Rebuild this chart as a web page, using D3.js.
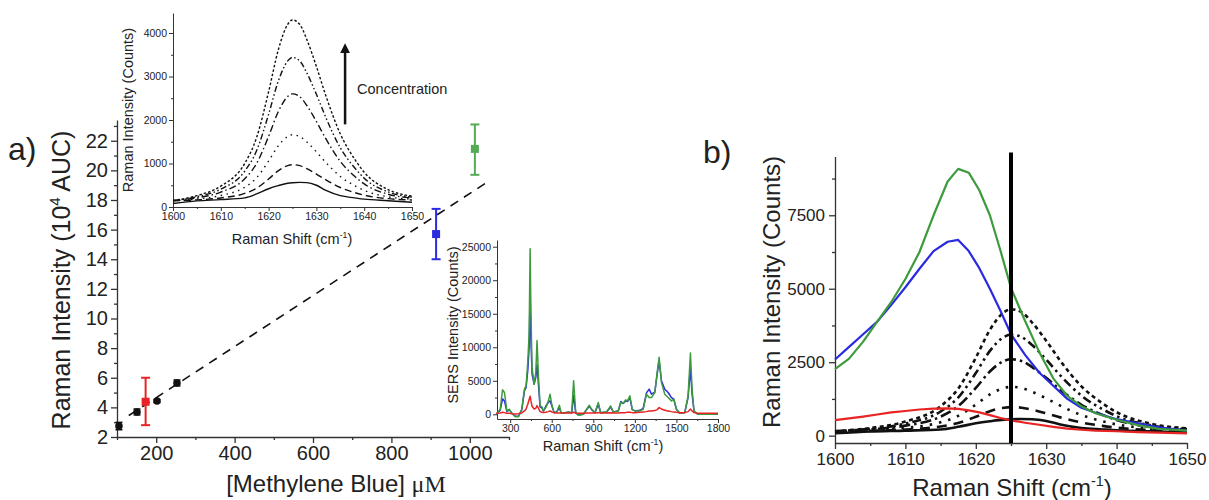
<!DOCTYPE html>
<html>
<head>
<meta charset="utf-8">
<script src="https://cdn.jsdelivr.net/npm/d3@7"></script>
<style>
  body { margin: 0; background: #fff; }
  svg { display: block; }
  text { font-family: "Liberation Sans", Arial, sans-serif; fill: #222; }
</style>
</head>
<body>
<svg></svg>
<script>
// ---- panel a: calibration points ----
const concX = [105, 151, 202, 253];
const concY = [2.74, 3.69, 4.43, 5.65];
const concErr = [0.25, 0.2, 0.1, 0.2];

const sampleX = [173, 914, 1013];
const sampleY = [4.38, 15.7, 21.45];
const sampleLo = [2.8, 14.0, 19.7];
const sampleHi = [6.0, 17.4, 23.1];

const fitX = [130, 1050];
const fitY = [3.45, 19.3];

const aXTicks = [200, 400, 600, 800, 1000];
const aXMinor = [100, 300, 500, 700, 900, 1100];
const aYTicks = [2, 4, 6, 8, 10, 12, 14, 16, 18, 20, 22];
const aYMinor = [3, 5, 7, 9, 11, 13, 15, 17, 19, 21, 23];

// ---- standards, 1600-1650 region (inset + panel b) ----
const shiftX = [1600, 1605, 1610, 1615, 1617.5, 1620, 1622, 1624, 1625, 1626.5, 1628, 1630, 1632, 1635, 1638, 1640, 1645, 1650];
const stdSolid = [80, 140, 170, 210, 300, 420, 490, 545, 557, 565, 560, 500, 380, 260, 210, 180, 145, 110];
const stdDash = [142, 164, 208, 312, 432, 642, 832, 952, 972, 952, 882, 758, 622, 448, 332, 272, 192, 162];
const stdDot = [144, 184, 264, 454, 673, 1056, 1403, 1622, 1660, 1622, 1494, 1268, 1020, 702, 490, 381, 235, 180];
const stdDashDot = [146, 211, 341, 648, 1003, 1623, 2185, 2540, 2600, 2540, 2333, 1966, 1564, 1050, 707, 530, 294, 205];
const stdDashDotDot = [148, 235, 410, 822, 1298, 2130, 2884, 3360, 3440, 3360, 3082, 2590, 2051, 1361, 901, 663, 346, 227];
const stdShortDash = [150, 260, 480, 1000, 1600, 2650, 3600, 4200, 4300, 4200, 3850, 3230, 2550, 1680, 1100, 800, 400, 250];

const insetXTicks = [1600, 1610, 1620, 1630, 1640, 1650];
const insetXMinor = [1605, 1615, 1625, 1635, 1645];
const insetYTicks = [0, 1000, 2000, 3000, 4000];
const insetYMinor = [500, 1500, 2500, 3500];
const arrowX = 1636;
const arrowFrom = 1900;
const arrowTo = 3650;

// ---- samples, panel b ----
const bX = [1600, 1602, 1604, 1606, 1608, 1610, 1612, 1614, 1616, 1617.5, 1619, 1620.5, 1622, 1623.5, 1625, 1627, 1629, 1631, 1633, 1635, 1637, 1640, 1643, 1646, 1650];
const bGreen = [2260, 2620, 3200, 3880, 4550, 5330, 6250, 7500, 8650, 9080, 8950, 8350, 7500, 6300, 5030, 3900, 2850, 1950, 1350, 1000, 760, 540, 360, 230, 170];
const bBlue = [2590, 3020, 3450, 3880, 4450, 5050, 5680, 6280, 6600, 6660, 6280, 5700, 5000, 4250, 3450, 2750, 2150, 1700, 1250, 950, 780, 560, 420, 280, 170];
const bRed = [530, 590, 650, 720, 790, 840, 890, 920, 930, 910, 860, 790, 700, 600, 520, 440, 370, 300, 240, 200, 170, 150, 120, 100, 80];
const markerShift = 1625;

const bXTicks = [1600, 1610, 1620, 1630, 1640, 1650];
const bXMinor = [1605, 1615, 1625, 1635, 1645];
const bYTicks = [0, 2500, 5000, 7500];
const bYMinor = [1250, 3750, 6250, 8750];

// ---- SERS full spectra inset ----
const sersX = [
  200, 228, 245, 259, 276, 293, 312, 336, 360, 384,
  403, 415, 427, 437, 444, 450, 458, 473, 485, 494,
  504, 516, 528, 540, 557, 576, 588, 600, 617, 636,
  655, 667, 696, 720, 744, 758, 773, 792, 828, 852,
  871, 888, 912, 936, 953, 996, 1025, 1044, 1080, 1099,
  1116, 1133, 1147, 1164, 1181, 1200, 1236, 1260, 1284, 1303,
  1320, 1344, 1361, 1375, 1392, 1416, 1440, 1464, 1481, 1500,
  1524, 1560, 1584, 1601, 1613, 1627, 1656, 1700, 1750, 1800];
const sersGreen = [
  0, 750, 3650, 3250, 500, 750, 150, -350, -350, 750,
  3750, 4250, 7750, 12000, 24700, 15000, 7000, 4500, 6250, 11000,
  5750, 1250, 1150, 500, 1000, 2000, 3000, 1500, 250, 350,
  1350, 250, 250, 350, 250, 5000, 250, -150, 0, 750,
  1350, 750, 250, 1750, 250, 350, 1250, 350, 500, 1750,
  1650, 2150, 2000, 2750, 750, 500, 500, 750, 3000, 2500,
  2500, 3250, 6250, 8500, 4750, 3000, 2500, 2000, 2250, 750,
  150, 250, 2750, 9150, 3750, 500, 0, 50, 0, 50];
const sersBlue = [
  0, 600, 2300, 2000, 400, 700, 200, -300, -300, 700,
  3500, 4000, 6500, 10000, 18400, 11000, 6000, 4500, 5500, 7400,
  4500, 1100, 1000, 450, 1200, 1800, 2000, 1300, 250, 350,
  1000, 250, 250, 300, 250, 2800, 250, -100, 0, 700,
  1200, 700, 250, 1500, 250, 350, 1100, 350, 500, 1900,
  1600, 2000, 1900, 2500, 700, 500, 600, 900, 3200, 3750,
  3000, 3300, 6000, 8000, 5000, 3750, 3250, 2500, 2250, 750,
  150, 250, 2500, 6800, 3000, 450, 0, 50, 0, 50];
const sersRed = [
  150, 200, 300, 250, 150, 150, 100, 50, 100, 200,
  500, 800, 1500, 2200, 2700, 2000, 1200, 800, 900, 1300,
  900, 400, 300, 250, 300, 400, 500, 350, 250, 200,
  200, 200, 200, 200, 200, 300, 200, 150, 150, 200,
  200, 200, 200, 250, 200, 200, 250, 200, 200, 250,
  250, 250, 300, 300, 250, 250, 300, 350, 400, 500,
  500, 550, 700, 1000, 800, 600, 500, 400, 350, 300,
  250, 250, 400, 800, 500, 250, 150, 150, 150, 150];

const sersXTicks = [300, 600, 900, 1200, 1500, 1800];
const sersXMinor = [450, 750, 1050, 1350, 1650];
const sersYTicks = [0, 5000, 10000, 15000, 20000, 25000];
const sersYMinor = [2500, 7500, 12500, 17500, 22500];

const RED = '#e82323';
const BLUE = '#2a2ae0';
const GREEN = '#3d9b3d';
const GREEN_MARK = '#55aa55';

const width = 1209;
const height = 500;

const svg = d3.select('svg').attr('width', width).attr('height', height);

// scales
const xA = d3.scaleLinear().domain([100, 1100]).range([117, 509]);
const yA = d3.scaleLinear().domain([2, 23.4]).range([437, 120]);
const xI = d3.scaleLinear().domain([1600, 1650]).range([173, 412]);
const yI = d3.scaleLinear().domain([0, 4460]).range([207, 13]);
const xS = d3.scaleLinear().domain([205, 1800]).range([497, 718]);
const yS = d3.scaleLinear().domain([-700, 26000]).range([419, 240]);
const xB = d3.scaleLinear().domain([1600, 1650]).range([835, 1187]);
const yB = d3.scaleLinear().domain([-250, 9500]).range([443, 156.5]);

const plain = d3.format('d');

const drawAxes = (x, y, cfg) => {
  const yBase = y.range()[0];
  const xBase = x.range()[0];

  const gxMinor = svg.append('g').attr('transform', 'translate(0,' + yBase + ')')
    .call(d3.axisBottom(x).tickValues(cfg.xMinor).tickSize(cfg.minor).tickFormat('').tickSizeOuter(0));
  gxMinor.select('.domain').remove();
  const gyMinor = svg.append('g').attr('transform', 'translate(' + xBase + ',0)')
    .call(d3.axisLeft(y).tickValues(cfg.yMinor).tickSize(cfg.minor).tickFormat('').tickSizeOuter(0));
  gyMinor.select('.domain').remove();

  const gx = svg.append('g').attr('transform', 'translate(0,' + yBase + ')')
    .call(d3.axisBottom(x).tickValues(cfg.xTicks).tickFormat(plain)
      .tickSize(cfg.major).tickPadding(cfg.pad).tickSizeOuter(0));
  const gy = svg.append('g').attr('transform', 'translate(' + xBase + ',0)')
    .call(d3.axisLeft(y).tickValues(cfg.yTicks).tickFormat(plain)
      .tickSize(cfg.major).tickPadding(cfg.pad).tickSizeOuter(0));

  [gx, gy, gxMinor, gyMinor].forEach((g) => {
    g.selectAll('line').attr('stroke', '#333').attr('stroke-width', cfg.sw);
    g.selectAll('.domain').attr('stroke', '#333').attr('stroke-width', cfg.sw);
    g.selectAll('text')
      .attr('fill', '#222')
      .style('font-size', cfg.fs + 'px')
      .style('font-family', '"Liberation Sans", Arial, sans-serif');
  });
};

const pathOf = (x, y, xs, ys, curve) =>
  d3.line()
    .x((d, i) => x(xs[i]))
    .y((d) => y(d))
    .curve(curve || d3.curveLinear)(ys);

const addTitle = (tx, ty, rotate, size, parts) => {
  const t = svg.append('text')
    .attr('text-anchor', 'middle')
    .attr('transform', 'translate(' + tx + ',' + ty + ')' + (rotate ? ' rotate(-90)' : ''))
    .style('font-size', size + 'px');
  parts.forEach((p) => {
    const s = t.append('tspan').text(p.text);
    if (p.sup) s.attr('dy', -size * 0.4).style('font-size', (size * 0.6) + 'px');
    if (p.after) s.attr('dy', size * 0.4);
    if (p.serif) s.style('font-family', '"Liberation Serif", "Times New Roman", serif');
  });
  return t;
};

// ================= panel a =================
drawAxes(xA, yA, {
  xTicks: aXTicks, xMinor: aXMinor, yTicks: aYTicks, yMinor: aYMinor,
  major: 6, minor: 3, pad: 3, sw: 1.3, fs: 20
});

// fit line
svg.append('path')
  .attr('d', pathOf(xA, yA, fitX, fitY))
  .attr('fill', 'none')
  .attr('stroke', '#111')
  .attr('stroke-width', 1.6)
  .attr('stroke-dasharray', '9,7');

// black calibration points
const calib = svg.append('g');
concX.forEach((cx, i) => {
  const px = xA(cx);
  const lo = yA(concY[i] - concErr[i]);
  const hi = yA(concY[i] + concErr[i]);
  calib.append('line').attr('x1', px).attr('x2', px).attr('y1', lo).attr('y2', hi)
    .attr('stroke', '#111').attr('stroke-width', 1.5);
  [lo, hi].forEach((yy) => {
    calib.append('line').attr('x1', px - 3.5).attr('x2', px + 3.5).attr('y1', yy).attr('y2', yy)
      .attr('stroke', '#111').attr('stroke-width', 1.5);
  });
  calib.append('circle').attr('cx', px).attr('cy', yA(concY[i])).attr('r', 3.8).attr('fill', '#111');
});

// coloured samples
const sampleColors = [RED, BLUE, GREEN_MARK];
const samples = svg.append('g');
sampleX.forEach((sx, i) => {
  const px = xA(sx);
  const lo = yA(sampleLo[i]);
  const hi = yA(sampleHi[i]);
  const c = sampleColors[i];
  samples.append('line').attr('x1', px).attr('x2', px).attr('y1', lo).attr('y2', hi)
    .attr('stroke', c).attr('stroke-width', 2);
  [lo, hi].forEach((yy) => {
    samples.append('line').attr('x1', px - 4.5).attr('x2', px + 4.5).attr('y1', yy).attr('y2', yy)
      .attr('stroke', c).attr('stroke-width', 2);
  });
  samples.append('rect').attr('x', px - 4).attr('y', yA(sampleY[i]) - 4)
    .attr('width', 8).attr('height', 8).attr('fill', c);
});

svg.append('text').attr('x', 8).attr('y', 160).style('font-size', '32px').text('a)');
addTitle(70, 280, true, 25, [
  { text: 'Raman Intensity (10' }, { text: '4', sup: true }, { text: ' AUC)', after: true }
]);
addTitle(336, 492, false, 24, [
  { text: '[Methylene Blue] ' }, { text: '\u03bcM', serif: true }
]);

// ================= top inset =================
drawAxes(xI, yI, {
  xTicks: insetXTicks, xMinor: insetXMinor, yTicks: insetYTicks, yMinor: insetYMinor,
  major: 4, minor: 2, pad: 2, sw: 1, fs: 10.5
});

const stdSeries = [
  { ys: stdSolid, dash: null },
  { ys: stdDash, dash: [7, 4] },
  { ys: stdDot, dash: [1.5, 4.5] },
  { ys: stdDashDot, dash: [7, 3, 1.5, 3] },
  { ys: stdDashDotDot, dash: [6, 2.5, 1.5, 2.5, 1.5, 2.5] },
  { ys: stdShortDash, dash: [2.5, 2] }
];

stdSeries.forEach((s) => {
  svg.append('path')
    .attr('d', pathOf(xI, yI, shiftX, s.ys, d3.curveMonotoneX))
    .attr('fill', 'none')
    .attr('stroke', '#111')
    .attr('stroke-width', 1.4)
    .attr('stroke-dasharray', s.dash ? s.dash.join(',') : null);
});

// concentration arrow
svg.append('defs').append('marker')
  .attr('id', 'head')
  .attr('viewBox', '0 0 10 10')
  .attr('refX', 5).attr('refY', 5)
  .attr('markerWidth', 4).attr('markerHeight', 4)
  .attr('orient', 'auto')
  .append('path').attr('d', 'M0,0 L10,5 L0,10 z').attr('fill', '#111');
svg.append('line')
  .attr('x1', xI(arrowX)).attr('x2', xI(arrowX))
  .attr('y1', yI(arrowFrom)).attr('y2', yI(arrowTo))
  .attr('stroke', '#111').attr('stroke-width', 2.5)
  .attr('marker-end', 'url(#head)');
svg.append('text')
  .attr('x', xI(arrowX) + 12).attr('y', yI(2600))
  .style('font-size', '14.5px')
  .text('Concentration');

addTitle(133, 110, true, 14.5, [
  { text: 'Raman Intensity (Counts)' }
]);
addTitle(292, 244, false, 14.5, [
  { text: 'Raman Shift (cm' }, { text: '-1', sup: true }, { text: ')', after: true }
]);

// ================= SERS inset =================
drawAxes(xS, yS, {
  xTicks: sersXTicks, xMinor: sersXMinor, yTicks: sersYTicks, yMinor: sersYMinor,
  major: 4, minor: 2, pad: 2, sw: 1, fs: 10.5
});

[[sersBlue, BLUE], [sersGreen, GREEN], [sersRed, RED]].forEach(([ys, c]) => {
  svg.append('path')
    .attr('d', pathOf(xS, yS, sersX, ys))
    .attr('fill', 'none')
    .attr('stroke', c)
    .attr('stroke-width', 1.5)
    .attr('stroke-linejoin', 'round');
});

addTitle(458, 325, true, 14.5, [
  { text: 'SERS Intensity (Counts)' }
]);
addTitle(603, 451, false, 14.5, [
  { text: 'Raman Shift (cm' }, { text: '-1', sup: true }, { text: ')', after: true }
]);

// ================= panel b =================
drawAxes(xB, yB, {
  xTicks: bXTicks, xMinor: bXMinor, yTicks: bYTicks, yMinor: bYMinor,
  major: 6, minor: 3, pad: 4, sw: 1.3, fs: 17
});

const bDash = [null, [10, 7], [2.5, 7], [11, 4, 2.5, 4], [9, 4, 2.5, 4, 2.5, 4], [4, 3.5]];
stdSeries.forEach((s, i) => {
  svg.append('path')
    .attr('d', pathOf(xB, yB, shiftX, s.ys, d3.curveMonotoneX))
    .attr('fill', 'none')
    .attr('stroke', '#111')
    .attr('stroke-width', 2.6)
    .attr('stroke-dasharray', bDash[i] ? bDash[i].join(',') : null);
});

[[bRed, RED], [bBlue, BLUE], [bGreen, GREEN]].forEach(([ys, c]) => {
  svg.append('path')
    .attr('d', pathOf(xB, yB, bX, ys))
    .attr('fill', 'none')
    .attr('stroke', c)
    .attr('stroke-width', 2.2)
    .attr('stroke-linejoin', 'round');
});

svg.append('line')
  .attr('x1', xB(markerShift)).attr('x2', xB(markerShift))
  .attr('y1', yB.range()[1] - 4).attr('y2', yB.range()[0])
  .attr('stroke', '#000')
  .attr('stroke-width', 4);

svg.append('text').attr('x', 703).attr('y', 163).style('font-size', '32px').text('b)');
addTitle(780, 292, true, 24, [
  { text: 'Raman Intensity (Counts)' }
]);
addTitle(1012, 496, false, 24, [
  { text: 'Raman Shift (cm' }, { text: '-1', sup: true }, { text: ')', after: true }
]);
</script>
</body>
</html>
